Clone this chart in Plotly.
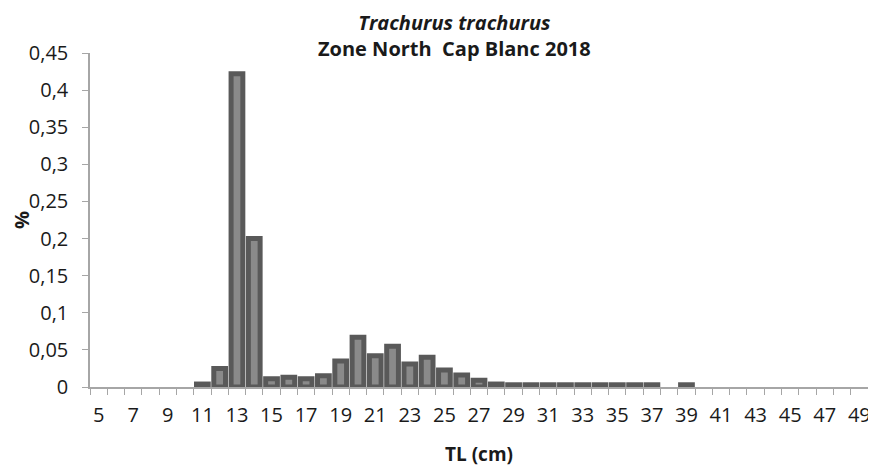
import plotly.graph_objects as go

lengths = list(range(5, 50))
values = [0, 0, 0, 0, 0, 0,
          0.004, 0.025, 0.422, 0.200, 0.011, 0.013, 0.011, 0.015, 0.035,
          0.067, 0.042, 0.055, 0.031, 0.040, 0.023, 0.016, 0.009, 0.004,
          0.003, 0.003, 0.003, 0.003, 0.003, 0.003, 0.003, 0.003, 0.003,
          0, 0.003, 0, 0, 0, 0, 0, 0, 0, 0, 0, 0]
tick_labels = list(range(5, 50, 2))
title_lines = ["<b><i>Trachurus trachurus</i></b>", "<b>Zone North  Cap Blanc 2018</b>"]

font_family = "Open Sans, Lato, sans-serif"
line_widths = [5 if v > 0 else 0 for v in values]

fig = go.Figure()
fig.add_trace(go.Bar(
    x=lengths, y=values,
    marker=dict(color="#8a8a8a", line=dict(color="#595959", width=line_widths)),
))

# page body has an 8px margin, so figure coords = screen coords - 8
OFF = 8
W, H = 876 - OFF, 470 - OFF
L, T = 90 - OFF, 53 - OFF
R = W - (868 - OFF)
B = H - (387 - OFF)
pw, ph = W - L - R, H - T - B

fig.update_layout(
    width=W, height=H,
    margin=dict(l=L, r=R, t=T, b=B, autoexpand=False),
    plot_bgcolor="white", paper_bgcolor="white",
    separators=",.",
    bargap=0.32,
    showlegend=False,
    font=dict(family=font_family, color="#1a1a1a"),
    xaxis=dict(
        range=[4.5, 49.5], automargin=False,
        tickvals=tick_labels, ticktext=[str(t) for t in tick_labels],
        ticks="", showgrid=False, zeroline=False,
        showline=True, linecolor="#a6a6a6", linewidth=1.5,
        tickfont=dict(size=20, color="#1a1a1a"),
        ticklabelstandoff=9,
        minor=dict(tick0=4.5, dtick=1, ticks="outside", ticklen=6,
                   tickcolor="#a6a6a6", showgrid=False),
        title=dict(text="<b>TL (cm)</b>", font=dict(size=19), standoff=21),
    ),
    yaxis=dict(
        range=[0, 0.45], dtick=0.05, automargin=False,
        ticks="outside", ticklen=6, tickcolor="#a6a6a6",
        showgrid=False, zeroline=False,
        showline=True, linecolor="#a6a6a6", linewidth=1.5,
        tickfont=dict(size=20, color="#1a1a1a"),
        ticklabelstandoff=10,
        title=dict(text="<b>%</b>", font=dict(size=20), standoff=0),
    ),
)
fig.add_annotation(text="<br>".join(title_lines),
                   x=(454 - 90) / pw, y=1 + T / ph,
                   xref="paper", yref="paper", showarrow=False,
                   font=dict(size=20), xanchor="center", yanchor="top",
                   align="center", borderpad=0)

fig.write_html("out.html")
